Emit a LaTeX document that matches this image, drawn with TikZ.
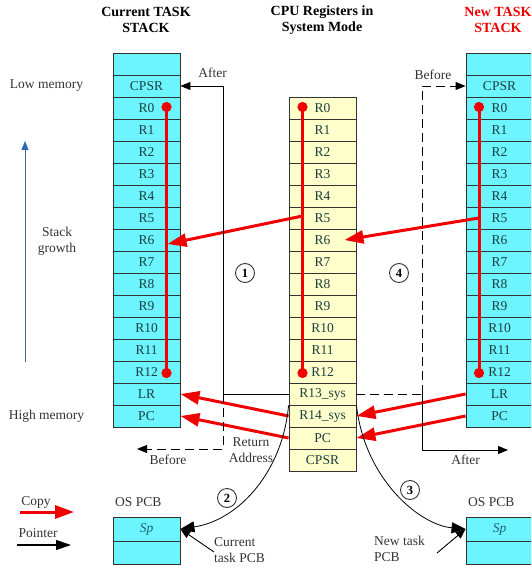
\documentclass[tikz,border=0pt]{standalone}
\usepackage{fontspec}
\setmainfont{Liberation Serif}
\usetikzlibrary{positioning,arrows.meta,calc}
\definecolor{ink}{HTML}{333333}
\definecolor{celltext}{HTML}{1C4040}
\definecolor{sptext}{HTML}{1F5F6F}
\definecolor{stackcyan}{HTML}{6CF4FF}
\definecolor{regyellow}{HTML}{FFFFCC}
\definecolor{copyred}{HTML}{F00000}
\definecolor{growblue}{HTML}{2E6AB0}
\tikzset{
  cell/.style={draw=ink, line width=0.9pt, minimum width=67pt, minimum height=22pt,
    inner sep=0pt, text=celltext, font=\fontsize{13.5pt}{15pt}\selectfont},
  cstack/.style={cell, fill=stackcyan},
  creg/.style={cell, fill=regyellow},
  ttl/.style={font=\fontsize{14pt}{16pt}\selectfont\bfseries, align=center},
  lab/.style={font=\fontsize{13.5pt}{16pt}\selectfont, text=ink, align=center, inner sep=1pt},
  num/.style={draw=ink, circle, line width=0.9pt, minimum size=19pt, inner sep=0pt,
    font=\fontsize{12.5pt}{14pt}\selectfont\bfseries},
  copyarr/.style={-{Triangle[length=19pt,width=13pt]}, line width=3pt, color=copyred},
  regline/.style={{Circle[length=10pt]}-{Circle[length=10pt]}, line width=3pt, color=copyred},
  ptr/.style={-{Triangle[length=10pt,width=8pt]}, line width=0.9pt, color=black},
  ptrbig/.style={-{Triangle[length=14pt,width=11pt]}, line width=0.8pt, color=black},
  dsh/.style={dash pattern=on 9pt off 5pt},
}
\begin{document}
\begin{tikzpicture}[x=1pt, y=-1pt]
    \useasboundingbox (0,0) rectangle (531,569);
    \clip (0,0) rectangle (531,569);
    \node[ttl] (tcur) at (146,20) {Current TASK\\STACK};
    \node[ttl] (tcpu) at (322,20) {CPU Registers in\\System Mode};
    \node[ttl, text=copyred] (tnew) at (498,20) {New TASK\\STACK};
    % current task stack
    \node[cstack] (lE) at (146.5,64) {};
    \node[cstack] (lCPSR) at (146.5,86) {CPSR};
    \foreach \i in {0,...,12} \node[cstack] (l\i) at (146.5,108+22*\i) {R\i};
    \node[cstack] (lLR) at (146.5,394) {LR};
    \node[cstack] (lPC) at (146.5,416) {PC};
    % cpu registers
    \foreach \i in {0,...,12} \node[creg] (m\i) at (322.5,108+22*\i) {R\i};
    \node[creg] (m13) at (322.5,394) {R13\_sys};
    \node[creg] (m14) at (322.5,416) {R14\_sys};
    \node[creg] (mPC) at (322.5,438) {PC};
    \node[creg] (mCPSR) at (322.5,460) {CPSR};
    % new task stack
    \node[cstack] (rE) at (499.5,64) {};
    \node[cstack] (rCPSR) at (499.5,86) {CPSR};
    \foreach \i in {0,...,12} \node[cstack] (r\i) at (499.5,108+22*\i) {R\i};
    \node[cstack] (rLR) at (499.5,394) {LR};
    \node[cstack] (rPC) at (499.5,416) {PC};
    % OS PCB
    \node[cstack, minimum height=24pt, text=sptext] (lSp) at (146.5,529) {\textit{Sp}};
    \node[cstack, minimum height=23pt] (lPcb) at (146.5,552.5) {};
    \node[lab, anchor=west] (lpcbl) at (114,502) {OS PCB};
    \node[cstack, minimum height=24pt, text=sptext] (rSp) at (499.5,529) {\textit{Sp}};
    \node[cstack, minimum height=23pt] (rPcb) at (499.5,552.5) {};
    \node[lab, anchor=west] (rpcbl) at (467,502) {OS PCB};

    \node[lab] (lowm) at (46.5,86) {Low memory};
    \node[lab] (highm) at (46.5,416) {High memory};
    \node[lab] (grow) at (57,241) {Stack\\growth};
    \coordinate (gA) at (25,362);
    \coordinate (gB) at (25,141);
    \draw[-{Triangle[length=9pt,width=7pt]}, line width=1pt, growblue] (gA) -- (gB);

    \draw[regline] ($(l0.center)+(20,-6)$) -- ($(l12.center)+(20,6)$);
    \draw[regline] ($(m0.center)+(-20,-6)$) -- ($(m12.center)+(-20,6)$);
    \draw[regline] ($(r0.center)+(-20.5,-6)$) -- ($(r12.center)+(-20.5,6)$);
    \draw[copyarr] ($(m5.center)+(-20,-2)$) -- ($(l6.center)+(21,4)$);
    \draw[copyarr] ($(r5.center)+(-20.5,0)$) -- ($(m6.center)+(22,0)$);
    \draw[copyarr] (m14.west) -- (lLR.east);
    \draw[copyarr] (mPC.west) -- (lPC.east);
    \draw[copyarr] (rLR.west) -- (m14.east);
    \draw[copyarr] (rPC.west) -- (mPC.east);

    \coordinate (lturn) at (223,394);
    \coordinate (lbefore) at (137,449);
    \draw[line width=0.9pt] (m13.west) -- (lturn);
    \draw[ptr] (lturn) |- (lCPSR.east);
    \draw[ptr, dsh] (lturn) |- (lbefore);
    \coordinate (rturn) at (422,394);
    \coordinate (rafter) at (508,450);
    \draw[line width=0.9pt, dsh] (m13.east) -- (rturn);
    \draw[ptr, dsh] (rturn) |- (rCPSR.west);
    \draw[ptr] (rturn) |- (rafter);
    \node[lab] (lafterl) at (212.5,73) {After};
    \node[lab] (lbeforel) at (168,460) {Before};
    \node[lab] (rbeforel) at (433,75) {Before};
    \node[lab] (rafterl) at (465.5,460) {After};
    \node[lab] (retl) at (251,450) {Return\\Address};

    \node[num] (n1) at (245,273) {1};
    \node[num] (n4) at (399,273) {4};
    \node[num] (n2) at (227,498) {2};
    \node[num] (n3) at (410,490) {3};
    \draw[ptrbig] (m13.south west) .. controls (283,470) and (240,520) .. (lSp.east);
    \draw[ptrbig] (m13.south east) .. controls (365,480) and (420,525) .. (rSp.west);

    \node[lab, align=left, anchor=north west] (curl) at (213,536) {Current\\task PCB};
    \node[lab, align=left, anchor=north west] (newl) at (373,535) {New task\\PCB};
    \coordinate (curtail) at (214,552);
    \coordinate (newtail) at (437,553);
    \draw[ptr] (curtail) -- (lSp.east);
    \draw[ptr] (newtail) -- (rSp.west);

    % legend
    \node[lab] (copyl) at (36,502) {Copy};
    \coordinate (cpA) at (20,512);
    \coordinate (cpB) at (74,512);
    \draw[copyarr] (cpA) -- (cpB);
    \node[lab] (ptrl) at (38,533) {Pointer};
    \coordinate (ptA) at (17,545);
    \coordinate (ptB) at (71,545);
    \draw[-{Triangle[length=15pt,width=10pt]}, line width=1.2pt] (ptA) -- (ptB);
  \end{tikzpicture}
\end{document}
